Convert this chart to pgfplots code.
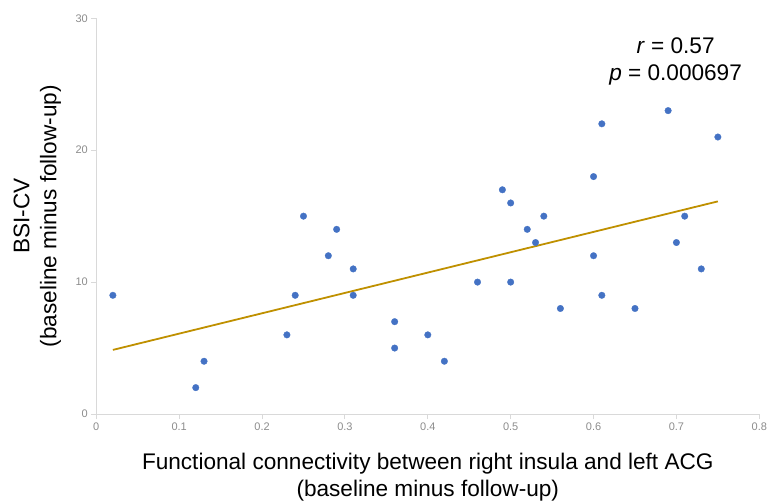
\documentclass[border=0pt]{standalone}
\usepackage{fontspec}
\setmainfont{Liberation Sans}
\usepackage{pgfplots}
\pgfplotsset{compat=1.18}
\usetikzlibrary{calc}
\definecolor{dotblue}{HTML}{4472C4}
\definecolor{trendgold}{HTML}{BF9000}
\definecolor{axisgray}{HTML}{D9D9D9}
\definecolor{ticklab}{HTML}{8C8C8C}
\begin{document}
\begin{tikzpicture}
\begin{axis}[
  name=ax,
  scale only axis,
  width=663pt, height=395.7pt,
  xmin=0, xmax=0.8, ymin=0, ymax=30,
  xtick={0,0.1,0.2,0.3,0.4,0.5,0.6,0.7,0.8},
  ytick={0,10,20,30},
  axis x line*=bottom, axis y line*=left,
  axis line style={draw=axisgray, line width=0.9pt, -},
  tick align=outside, major tick length=5pt,
  tick style={draw=axisgray, line width=0.9pt},
  ticklabel style={font=\fontsize{11}{12}\selectfont, text=ticklab},
  /pgf/number format/assume math mode=true,
  xticklabel style={/pgf/number format/fixed},
  label style={font=\fontsize{22.6}{27}\selectfont, align=center, inner sep=0pt},
  xlabel={Functional connectivity between right insula and left ACG\\(baseline minus follow-up)},
  xlabel style={at={(axis description cs:0.5,-0.0986)}, anchor=north},
  ylabel={BSI-CV\\(baseline minus follow-up)},
  ylabel style={at={(axis description cs:-0.1252,0.5)}, anchor=north, rotate=0},
  clip=false,
]
\addplot[only marks, color=dotblue, mark=*, mark size=3.3pt, mark options={solid, fill=dotblue, line width=0.3pt}] coordinates {
  (0.02,9) (0.12,2) (0.13,4) (0.23,6) (0.24,9) (0.25,15) (0.28,12) (0.29,14)
  (0.31,11) (0.31,9) (0.36,7) (0.36,5) (0.40,6) (0.42,4) (0.46,10) (0.49,17)
  (0.50,16) (0.50,10) (0.52,14) (0.53,13) (0.54,15) (0.56,8) (0.60,18) (0.60,12)
  (0.61,22) (0.61,9) (0.65,8) (0.69,23) (0.70,13) (0.71,15) (0.73,11) (0.75,21)
};
% linear trend
\addplot[trendgold, line width=1.8pt, no marks] coordinates {(0.02,4.86) (0.75,16.12)};
\node[align=center, anchor=north, inner sep=0pt, font=\fontsize{22.6}{27}\selectfont]
  at (axis cs:0.699,28.56) {\textit{r} = 0.57\\\textit{p} = 0.000697};
\end{axis}
\pgfresetboundingbox
\path[use as bounding box] ($(ax.south west)+(-96.3pt,-87pt)$) rectangle ($(ax.north east)+(9.7pt,18.3pt)$);
\end{tikzpicture}
\end{document}
